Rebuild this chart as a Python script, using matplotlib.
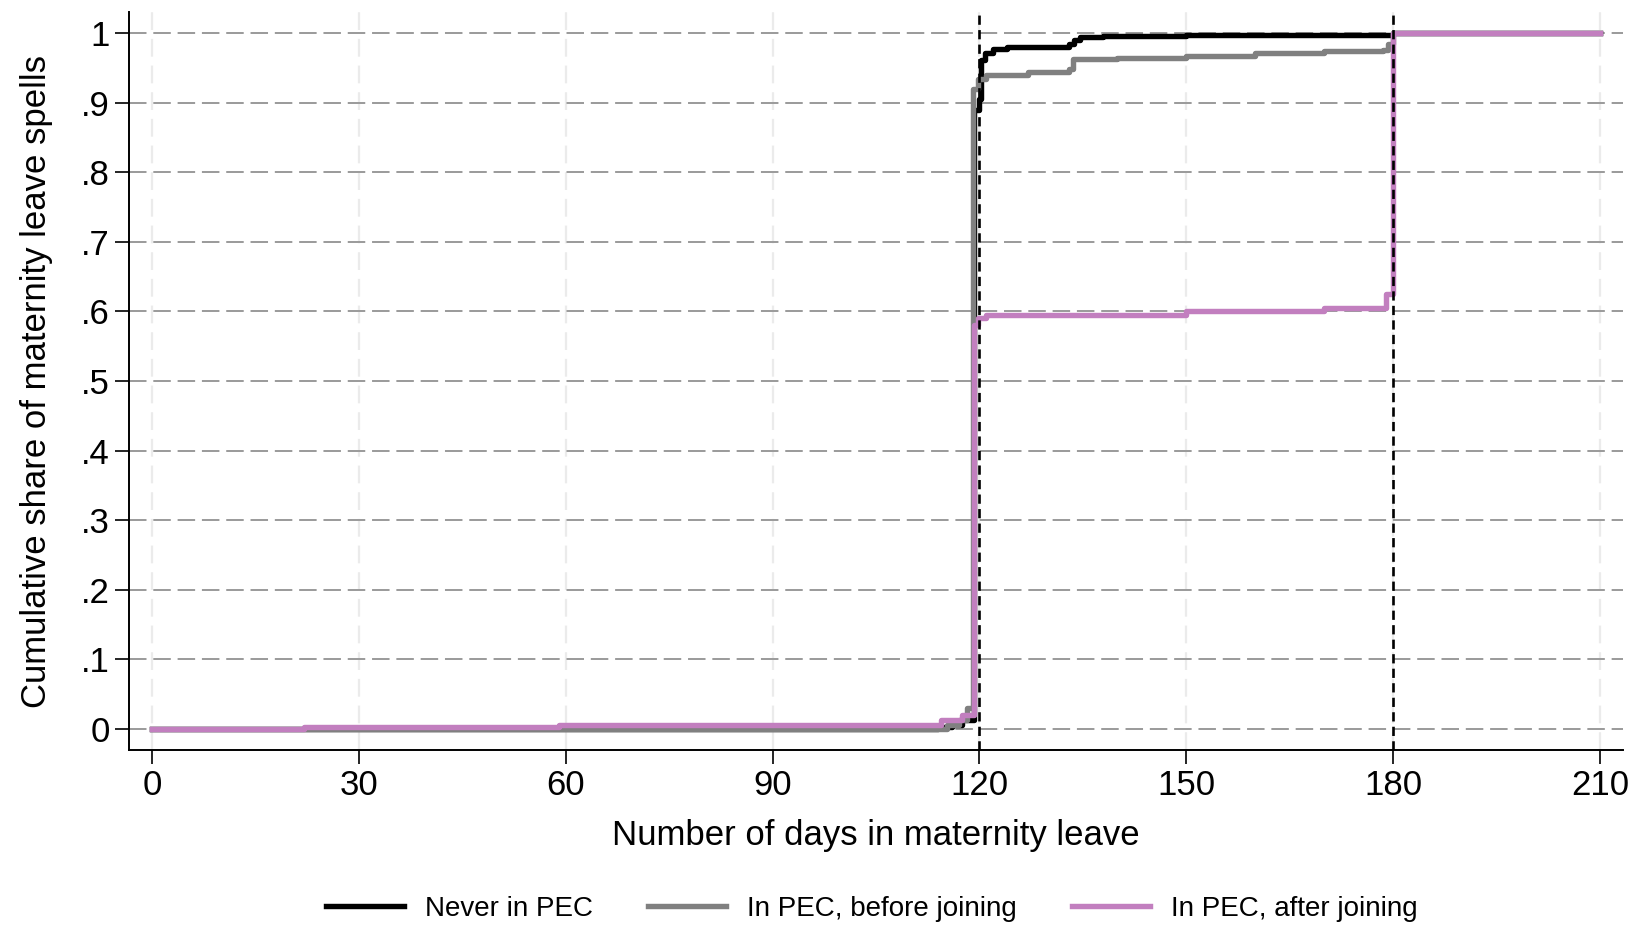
import matplotlib
matplotlib.use("Agg")
import matplotlib.pyplot as plt

plt.rcParams['font.family'] = ['Liberation Sans', 'DejaVu Sans']

# cumulative share of maternity leave spells
never_days = [0, 114, 116, 117.5, 119.2, 120.0, 120.3, 120.8, 122, 124, 133, 133.8, 134.6, 138, 150, 180, 210]
never_cdf = [0, 0.003, 0.006, 0.012, 0.89, 0.905, 0.962, 0.972, 0.977, 0.981, 0.984, 0.991, 0.994, 0.996, 0.997, 1.0, 1.0]

before_days = [0, 115.3, 117, 118.2, 119.1, 119.8, 121, 127, 133, 133.6, 140, 150, 160, 170, 178.5, 179.3, 180, 210]
before_cdf = [0, 0.005, 0.012, 0.03, 0.92, 0.935, 0.94, 0.945, 0.948, 0.963, 0.965, 0.967, 0.971, 0.974, 0.976, 0.985, 1.0, 1.0]

after_days = [0, 22, 59, 114.5, 117.5, 119.2, 119.8, 121, 150, 170, 179, 180, 210]
after_cdf = [0, 0.002, 0.006, 0.012, 0.02, 0.58, 0.59, 0.595, 0.600, 0.605, 0.625, 1.0, 1.0]

labels = ['Never in PEC', 'In PEC, before joining', 'In PEC, after joining']
colors = ['#000000', '#808080', '#c27fbf']

x_ticks = [0, 30, 60, 90, 120, 150, 180, 210]
y_ticks = [0, .1, .2, .3, .4, .5, .6, .7, .8, .9, 1]
y_tick_labels = ['0', '.1', '.2', '.3', '.4', '.5', '.6', '.7', '.8', '.9', '1']
cutoffs = [120, 180]

fig = plt.figure(figsize=(16.39, 9.30), dpi=100)
ax = fig.add_axes([0.0787, 0.194, 0.9113, 0.7926])

for xt in x_ticks:
    ax.axvline(xt, color='#ebebeb', lw=1.6, ls=(0, (8, 4)), zorder=0)
for yt in y_ticks:
    ax.axhline(yt, color='#9a9a9a', lw=1.4, ls=(0, (9, 3.5)), zorder=0)

for days, cdf, lab, col in zip([never_days, before_days, after_days],
                               [never_cdf, before_cdf, after_cdf], labels, colors):
    ax.step(days, cdf, where='post', color=col, lw=3.9, label=lab, zorder=2)

for c in cutoffs:
    ax.axvline(c, color='black', lw=1.9, ls=(0, (3.5, 2)), zorder=3)

ax.set_xlim(-3.34, 213.3)
ax.set_ylim(-0.030, 1.030)
ax.set_xticks(x_ticks)
ax.set_yticks(y_ticks)
ax.set_yticklabels(y_tick_labels)
ax.tick_params(axis='both', labelsize=25, length=10, width=1.2, pad=4)
for side in ['top', 'right']:
    ax.spines[side].set_visible(False)
for side in ['left', 'bottom']:
    ax.spines[side].set_linewidth(1.4)

ax.set_xlabel('Number of days in maternity leave', fontsize=25, labelpad=12)
ax.set_ylabel('Cumulative share of maternity leave spells', fontsize=25, labelpad=20)

fig.legend(loc='lower center', bbox_to_anchor=(0.532, -0.018), ncol=3, frameon=False,
           fontsize=20, handlelength=2.8, columnspacing=2.0, handletextpad=0.75)

fig.savefig('out.png', dpi=100)
